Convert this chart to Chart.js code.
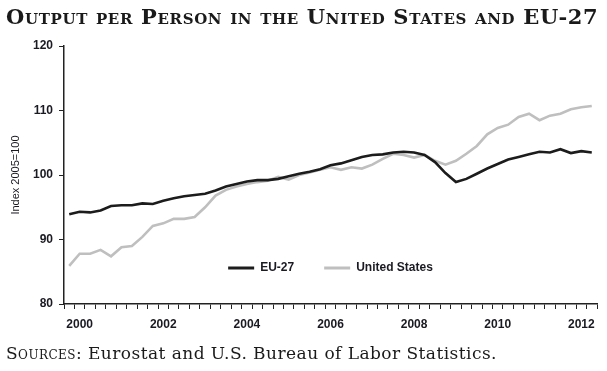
<!DOCTYPE html>
<html>
<head>
<meta charset="utf-8">
<script src="https://cdn.jsdelivr.net/npm/chart.js@4.4.1/dist/chart.umd.min.js"></script>
<style>
  html, body { margin: 0; padding: 0; background: #fff; }
  #wrap { position: relative; width: 607px; height: 371px; overflow: hidden; }
  #chart { position: absolute; left: 0; top: 0; }
  .titulo {
    position: absolute; left: 6px; top: 4px;
    font-family: 'DejaVu Serif', serif; font-variant: small-caps; font-weight: bold;
    font-size: 21px; letter-spacing: 0.65px; color: #1a1a1a; white-space: nowrap;
  }
  .fonte {
    position: absolute; left: 6px; top: 343px;
    font-family: 'DejaVu Serif', serif;
    font-size: 17px; letter-spacing: 0.45px; color: #1a1a1a; white-space: nowrap;
  }
  .fonte .sc { font-variant: small-caps; }
</style>
</head>
<body>
<div id="wrap">
  <canvas id="chart" width="607" height="371"></canvas>
  <div class="titulo">Output per Person in the United States and EU-27</div>
  <div class="fonte"><span class="sc">Sources:</span> Eurostat and U.S. Bureau of Labor Statistics.</div>
</div>
<script>
// ============================================
// Output per person, index 2005=100 (quarterly)
// ============================================

const quarters = [
    '2000Q1', '2000Q2', '2000Q3', '2000Q4', '2001Q1', '2001Q2', '2001Q3', '2001Q4',
    '2002Q1', '2002Q2', '2002Q3', '2002Q4', '2003Q1', '2003Q2', '2003Q3', '2003Q4',
    '2004Q1', '2004Q2', '2004Q3', '2004Q4', '2005Q1', '2005Q2', '2005Q3', '2005Q4',
    '2006Q1', '2006Q2', '2006Q3', '2006Q4', '2007Q1', '2007Q2', '2007Q3', '2007Q4',
    '2008Q1', '2008Q2', '2008Q3', '2008Q4', '2009Q1', '2009Q2', '2009Q3', '2009Q4',
    '2010Q1', '2010Q2', '2010Q3', '2010Q4', '2011Q1', '2011Q2', '2011Q3', '2011Q4',
    '2012Q1', '2012Q2', '2012Q3'
];

const euValues = [
    93.9, 94.3, 94.2, 94.5, 95.2, 95.3, 95.3, 95.6,
    95.5, 96.0, 96.4, 96.7, 96.9, 97.1, 97.6, 98.2,
    98.6, 99.0, 99.2, 99.2, 99.4, 99.8, 100.2, 100.5,
    100.9, 101.5, 101.8, 102.3, 102.8, 103.1, 103.2, 103.5,
    103.6, 103.5, 103.1, 102.0, 100.3, 98.9, 99.4, 100.2,
    101.0, 101.7, 102.4, 102.8, 103.2, 103.6, 103.5, 104.0,
    103.4, 103.7, 103.5
];

const usValues = [
    85.9, 87.8, 87.8, 88.4, 87.4, 88.8, 89.0, 90.4,
    92.1, 92.5, 93.2, 93.2, 93.5, 95.0, 96.8, 97.7,
    98.2, 98.6, 98.9, 99.1, 99.7, 99.3, 100.0, 100.4,
    100.8, 101.2, 100.8, 101.2, 101.0, 101.6, 102.5, 103.3,
    103.1, 102.7, 103.1, 102.2, 101.6, 102.2, 103.3, 104.5,
    106.3, 107.3, 107.8, 109.0, 109.5, 108.5, 109.2, 109.5,
    110.2, 110.5, 110.7
];

// anos rotulados (no 2º trimestre de cada ano)
const yearLabels = ['2000', '2002', '2004', '2006', '2008', '2010', '2012'];

const fonteEixo = "'Liberation Sans', Arial, sans-serif";
const corTexto = '#1a1a22';
const corEixo = '#222';

// legenda desenhada dentro da área do gráfico
const legendaNoGrafico = {
    id: 'legendaNoGrafico',
    afterDatasetsDraw(chart) {
        const { ctx, chartArea } = chart;
        const caixa = 26, gap = 6, espaco = 30, yLeg = 268;
        ctx.save();
        ctx.font = 'bold 12px ' + fonteEixo;
        ctx.textBaseline = 'middle';
        const itens = chart.data.datasets.map(ds => ({
            texto: ds.label,
            cor: ds.borderColor,
            largura: caixa + gap + ctx.measureText(ds.label).width
        }));
        const total = itens.reduce((s, it) => s + it.largura, 0) + espaco * (itens.length - 1);
        let x = (chartArea.left + chartArea.right) / 2 - total / 2;
        itens.forEach(it => {
            ctx.fillStyle = it.cor;
            ctx.fillRect(x, yLeg - 1.5, caixa, 3);
            ctx.fillStyle = corTexto;
            ctx.fillText(it.texto, x + caixa + gap, yLeg);
            x += it.largura + espaco;
        });
        ctx.restore();
    }
};

const ctx = document.getElementById('chart').getContext('2d');

new Chart(ctx, {
    type: 'line',
    data: {
        datasets: [
            {
                label: 'EU-27',
                data: euValues.map((v, i) => ({ x: i, y: v })),
                borderColor: '#1c1c1c',
                backgroundColor: '#1c1c1c',
                borderWidth: 2.6,
                pointRadius: 0,
                tension: 0
            },
            {
                label: 'United States',
                data: usValues.map((v, i) => ({ x: i, y: v })),
                borderColor: '#bfbfbf',
                backgroundColor: '#bfbfbf',
                borderWidth: 2.6,
                pointRadius: 0,
                tension: 0
            }
        ]
    },
    options: {
        responsive: false,
        animation: false,
        layout: {
            padding: { top: 46, right: 10, bottom: 40, left: 0 }
        },
        plugins: {
            legend: { display: false },
            tooltip: { enabled: false }
        },
        scales: {
            x: {
                type: 'linear',
                min: -0.5,
                max: quarters.length - 0.5,
                // marcas nas divisas dos trimestres, rótulos no centro
                afterBuildTicks: function (scale) {
                    const t = [];
                    for (let i = 0; i <= quarters.length * 2; i++) {
                        t.push({ value: i / 2 - 0.5 });
                    }
                    scale.ticks = t;
                },
                afterFit: function (scale) {
                    scale.height = 27;
                },
                ticks: {
                    autoSkip: false,
                    maxRotation: 0,
                    padding: 8,
                    color: corTexto,
                    font: { family: fonteEixo, size: 12, weight: 'bold' },
                    callback: function (value) {
                        const q = quarters[value];
                        if (!q) return '';
                        const ano = q.slice(0, 4);
                        return (q.endsWith('Q2') && yearLabels.includes(ano)) ? ano : '';
                    }
                },
                grid: {
                    drawOnChartArea: false,
                    drawTicks: true,
                    tickLength: 5,
                    color: c => (c.tick && Number.isInteger(c.tick.value)) ? 'rgba(0,0,0,0)' : corEixo,
                    lineWidth: 1
                },
                border: { display: true, color: corEixo, width: 1.5 }
            },
            y: {
                min: 80,
                max: 120,
                afterFit: function (scale) {
                    scale.width = 64;
                },
                ticks: {
                    stepSize: 10,
                    padding: 6,
                    color: corTexto,
                    font: { family: fonteEixo, size: 12, weight: 'bold' }
                },
                grid: {
                    drawOnChartArea: false,
                    drawTicks: true,
                    tickLength: 5,
                    color: corEixo,
                    lineWidth: 1
                },
                border: { display: true, color: corEixo, width: 1.5 },
                title: {
                    display: true,
                    text: 'Index 2005=100',
                    color: corTexto,
                    font: { family: fonteEixo, size: 11 },
                    padding: { top: 9, bottom: 0 }
                }
            }
        }
    },
    plugins: [legendaNoGrafico]
});
</script>
</body>
</html>
